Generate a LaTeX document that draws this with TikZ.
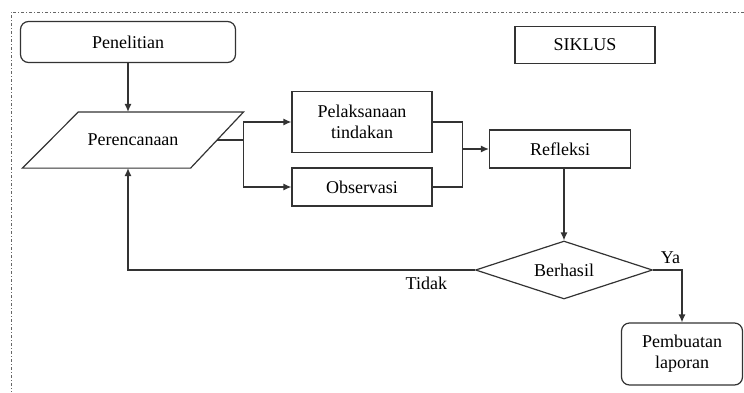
\documentclass[tikz,border=0pt]{standalone}
\usepackage{fontspec}
\setmainfont{Liberation Serif}
\newfontfamily\labelfont{Liberation Serif}
\usepackage{tikz}
\usetikzlibrary{shapes.geometric,arrows.meta,positioning,calc}

\begin{document}
\begin{tikzpicture}[x=1pt, y=-1pt, line width=1.2pt, draw=black!80,
    font=\labelfont\fontsize{18}{21}\selectfont,
    >={Latex[length=8pt,width=7pt]},
    box/.style={draw, rectangle, align=center, inner sep=2pt},
    roundbox/.style={box, rounded corners=8pt},
    decide/.style={draw, diamond, aspect=3, inner sep=0pt}]
  \useasboundingbox (0,0) rectangle (744,392);
  \draw[black!60, line width=1pt, dash pattern=on 3pt off 2pt on 1pt off 2pt] (744,12) -- (11,12) -- (11,392);

  \node[roundbox, minimum width=215, minimum height=41] (pen) at (128,42) {Penelitian};
  \node[box, minimum width=140, minimum height=37] (sik) at (585,45) {SIKLUS};
  \node[minimum width=220, minimum height=55] (ren) at (133,140) {Perencanaan};
  \draw ($(ren.north west)+(56,0)$) -- (ren.north east) -- ($(ren.south east)-(53,0)$) -- (ren.south west) -- cycle;
  \node[box, minimum width=140, minimum height=61] (pel) at (362,122) {Pelaksanaan\\tindakan};
  \node[box, minimum width=140, minimum height=38] (obs) at (362,187) {Observasi};
  \node[box, minimum width=141, minimum height=38] (ref) at (560,149) {Refleksi};
  \node[decide, minimum width=177, minimum height=58] (ber) at (564,270) {Berhasil};
  \node[roundbox, minimum width=121, minimum height=62] (lap) at (682,354) {Pembuatan\\laporan};

  \draw[->] (pen.south) -- (pen.south |- ren.north);
  \path (ren.east) ++(-27,0) coordinate (out);
  \path (ren.east) coordinate (fork);
  \draw (out) -- (fork);
  \draw[->] (fork) |- (pel.west);
  \draw[->] (fork) |- (obs.west);
  \path (pel.east) ++(30,0) coordinate (join);
  \draw (pel.east) -- (join) -- (join |- obs.east) -- (obs.east);
  \draw[->] (join |- ref.west) -- (ref.west);
  \draw[->] (ref.south -| ber.north) -- (ber.north);
  \draw[->] (ber.west) -| (pen.south |- ren.south) node[pos=0.07, below=3pt] {Tidak};
  \draw[->] (ber.east) -| (lap.north) node[pos=0.3, above=2pt] {Ya};
\end{tikzpicture}
\end{document}
